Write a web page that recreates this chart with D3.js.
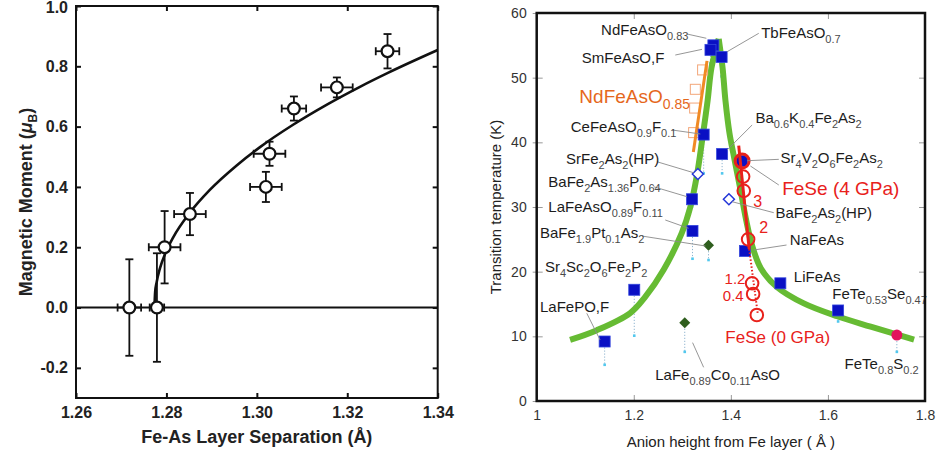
<!DOCTYPE html>
<html>
<head>
<meta charset="utf-8">
<script src="https://cdn.jsdelivr.net/npm/d3@7"></script>
<style>
  body { margin: 0; background: #fff; }
  svg { display: block; }
  text { font-family: "Liberation Sans", Arial, Helvetica, sans-serif; }
</style>
</head>
<body>
<svg id="chart" width="936" height="456"></svg>
<script>
// ---------- Panel A: ordered Fe moment vs Fe–As layer separation ----------
const separation    = [1.2718, 1.2779, 1.2796, 1.2852, 1.3028, 1.3020, 1.3082, 1.3177, 1.3289];
const moment        = [0.00, 0.00, 0.20, 0.31, 0.51, 0.40, 0.66, 0.73, 0.85];
const separationErr = [0.0026, 0.0016, 0.0035, 0.0035, 0.0035, 0.0035, 0.0027, 0.0035, 0.0026];
const momentErr     = [0.16, 0.18, 0.12, 0.07, 0.04, 0.05, 0.04, 0.033, 0.057];
// guide curve through the moments
const fitSeparation = [1.27735, 1.2775, 1.27785, 1.27858, 1.27985, 1.2815, 1.2852, 1.2896, 1.2956, 1.3007, 1.3081, 1.3155, 1.3228, 1.3291, 1.3400];
const fitMoment     = [0.000, 0.050, 0.085, 0.131, 0.183, 0.233, 0.315, 0.390, 0.472, 0.532, 0.607, 0.673, 0.732, 0.779, 0.854];
const sepTicks    = [1.26, 1.28, 1.30, 1.32, 1.34];
const momentTicks = [-0.2, 0.0, 0.2, 0.4, 0.6, 0.8, 1.0];

// ---------- Panel B: Tc vs anion height from the Fe layer ----------
// filled squares
const sqNames  = ["NdFeAsO_{0.83}", "SmFeAsO,F", "TbFeAsO_{0.7}", "CeFeAsO_{0.9}F_{0.1}", "Ba_{0.6}K_{0.4}Fe_{2}As_{2}",
                  "Sr_{4}V_{2}O_{6}Fe_{2}As_{2}", "BaFe_{2}As_{1.36}P_{0.64}", "LaFeAsO_{0.89}F_{0.11}", "NaFeAs", "LiFeAs",
                  "FeTe_{0.53}Se_{0.47}", "Sr_{4}Sc_{2}O_{6}Fe_{2}P_{2}", "LaFePO,F"];
const sqHeight = [1.364, 1.358, 1.381, 1.344, 1.382, 1.423, 1.320, 1.321, 1.429, 1.502, 1.621, 1.201, 1.140];
const sqTc     = [55.0, 54.3, 53.2, 41.2, 38.2, 37.1, 31.2, 26.3, 23.2, 18.2, 14.0, 17.2, 9.2];
const sqTcLow  = [null, 52.2, 50.2, 35.2, 35.2, null, 30.1, 22.0, null, null, 12.3, 10.1, 5.6];
// filled diamonds
const dmNames  = ["BaFe_{1.9}Pt_{0.1}As_{2}", "LaFe_{0.89}Co_{0.11}AsO"];
const dmHeight = [1.354, 1.305];
const dmTc     = [24.1, 12.1];
const dmTcLow  = [21.8, 7.6];
// open diamonds (high pressure)
const hpNames  = ["SrFe_{2}As_{2}(HP)", "BaFe_{2}As_{2}(HP)"];
const hpHeight = [1.332, 1.396];
const hpTc     = [35.1, 31.2];
// FeTe0.8S0.2
const tsHeight = [1.742];
const tsTc     = [10.2];
const tsTcLow  = [7.6];
// NdFeAsO0.85 under pressure
const ndHeight = [1.3418, 1.3268, 1.3254, 1.3233];
const ndTc     = [51.2, 48.2, 45.3, 41.5];
const ndTrendHeight = [1.3227, 1.3509];
const ndTrendTc     = [38.5, 52.6];
// FeSe under pressure (GPa)
const feseHeight = [1.4232, 1.4253, 1.4266, 1.4356, 1.4438, 1.4459, 1.4535];
const feseTc     = [37.1, 34.7, 32.5, 25.0, 18.2, 16.55, 13.3];
const feseTrendHeight = [1.4162, 1.4378, 1.4554];
const feseTrendTc     = [39.5, 23.5, 13.5];
// guide curve, two branches meeting at the top
const leftBranchHeight  = [1.0688, 1.124, 1.1926, 1.2236, 1.2615, 1.2990, 1.3165, 1.3303, 1.3406, 1.3522, 1.3600, 1.3750];
const leftBranchTc      = [9.45, 10.95, 13.6, 16.1, 20.3, 26.0, 30.0, 35.0, 40.2, 46.5, 51.5, 56.0];
const rightBranchHeight = [1.3750, 1.3830, 1.3888, 1.3970, 1.4058, 1.4200, 1.4320, 1.4440, 1.4620, 1.4955, 1.5504, 1.6193, 1.6881, 1.7775];
const rightBranchTc     = [56.0, 51.5, 46.5, 41.5, 38.0, 32.6, 27.8, 24.0, 20.5, 17.6, 15.1, 13.1, 11.5, 9.5];
const heightTicks = [1, 1.2, 1.4, 1.6, 1.8];
const tcTicks     = [0, 10, 20, 30, 40, 50, 60];

// label placement (data units): text start, and leader line from label to mark
const annotations = [
  { t: sqNames[0],  x: 1.1327, y: 56.6,  lead: [1.3097, 56.75, 1.3495, 56.09] },
  { t: sqNames[1],  x: 1.0929, y: 52.22, lead: [1.2855, 53.50, 1.3406, 54.38] },
  { t: sqNames[2],  x: 1.4624, y: 56.09, lead: [1.4575, 56.86, 1.3922, 54.01] },
  { t: sqNames[3],  x: 1.0702, y: 41.64, lead: [1.2787, 41.91, 1.3371, 41.29] },
  { t: sqNames[4],  x: 1.4507, y: 42.94, lead: [1.4438, 42.68, 1.3922, 38.81] },
  { t: sqNames[5],  x: 1.5023, y: 36.76, lead: [1.4988, 37.37, 1.4335, 37.16] },
  { t: hpNames[0],  x: 1.0605, y: 36.65, lead: [1.2477, 37.00, 1.3233, 35.30] },
  { t: sqNames[6],  x: 1.0239, y: 33.14, lead: [1.2407, 33.14, 1.3097, 31.59] },
  { t: hpNames[1],  x: 1.4920, y: 28.25, lead: [1.4884, 29.12, 1.4026, 30.82] },
  { t: sqNames[7],  x: 1.0239, y: 29.27, lead: [1.2649, 27.99, 1.3130, 26.71] },
  { t: dmNames[0],  x: 1.0068, y: 25.16, lead: [1.2168, 25.51, 1.3475, 23.97] },
  { t: sqNames[8],  x: 1.5215, y: 24.12, lead: [1.5147, 24.12, 1.4472, 23.35] },
  { t: sqNames[11], x: 1.0171, y: 19.99, lead: null },
  { t: sqNames[9],  x: 1.5297, y: 18.45, lead: null },
  { t: sqNames[10], x: 1.6090, y: 15.73, lead: null },
  { t: sqNames[12], x: 1.0068, y: 13.81, lead: [1.1032, 13.56, 1.1307, 9.43] },
  { t: dmNames[1],  x: 1.2442, y: 3.25,  lead: [1.3439, 5.21, 1.3212, 9.02] },
  { t: "FeTe_{0.8}S_{0.2}", x: 1.6344, y: 4.90, lead: null }
];
const feseNotes = [
  { t: "FeSe (4 GPa)", x: 1.5058, y: 31.85, size: 19, anchor: "start", lead: [1.4988, 33.40, 1.4403, 36.34] },
  { t: "FeSe (0 GPa)", x: 1.3887, y: 9.02,  size: 17, anchor: "start", lead: null },
  { t: "3",   x: 1.4553, y: 30.03, size: 16, anchor: "middle", lead: null },
  { t: "2",   x: 1.4678, y: 26.01, size: 16, anchor: "middle", lead: null },
  { t: "1.2", x: 1.4300, y: 18.05, size: 15, anchor: "end", lead: null },
  { t: "0.4", x: 1.4265, y: 15.50, size: 15, anchor: "end", lead: null }
];

const svg = d3.select("#chart");

// ================= Panel A =================
const xA = d3.scaleLinear().domain([1.26, 1.34]).range([76, 437.7]);
const yA = d3.scaleLinear().domain([-0.3, 1.0]).range([398, 6]);
const gA = svg.append("g");
const inkA = "#111";

function styleAxisA(g) {
  g.select(".domain").remove();
  g.selectAll(".tick line").attr("stroke", inkA).attr("stroke-width", 2);
  g.selectAll(".tick text").attr("fill", "#222").style("font-size", "16px").style("font-weight", "bold");
}
gA.append("g").attr("transform", `translate(0,${yA.range()[0]})`)
  .call(d3.axisBottom(xA).tickValues(sepTicks).tickFormat(d => d.toFixed(2)).tickSizeInner(-5).tickSizeOuter(0).tickPadding(9))
  .call(styleAxisA);
gA.append("g").attr("transform", `translate(0,${yA.range()[1]})`)
  .call(d3.axisTop(xA).tickValues(sepTicks).tickFormat("").tickSizeInner(-5).tickSizeOuter(0))
  .call(styleAxisA);
gA.append("g").attr("transform", `translate(${xA.range()[0]},0)`)
  .call(d3.axisLeft(yA).tickValues(momentTicks).tickFormat(d => d.toFixed(1)).tickSizeInner(-5).tickSizeOuter(0).tickPadding(8))
  .call(styleAxisA)
  // keep the topmost label inside the page
  .call(g => g.selectAll(".tick text").filter(d => d === 1.0).attr("dy", "0.42em"));
gA.append("g").attr("transform", `translate(${xA.range()[1]},0)`)
  .call(d3.axisRight(yA).tickValues(momentTicks).tickFormat("").tickSizeInner(-5).tickSizeOuter(0))
  .call(styleAxisA);

gA.append("rect")
  .attr("x", xA.range()[0]).attr("y", yA.range()[1])
  .attr("width", xA.range()[1] - xA.range()[0]).attr("height", yA.range()[0] - yA.range()[1])
  .attr("fill", "none").attr("stroke", inkA).attr("stroke-width", 2);

// zero line
gA.append("line")
  .attr("x1", xA.range()[0]).attr("x2", xA.range()[1])
  .attr("y1", yA(0)).attr("y2", yA(0))
  .attr("stroke", inkA).attr("stroke-width", 2);

// guide curve
const fitPts = fitSeparation.map((s, i) => [s, fitMoment[i]]);
gA.append("path")
  .attr("d", d3.line().x(d => xA(d[0])).y(d => yA(d[1])).curve(d3.curveMonotoneX)(fitPts))
  .attr("fill", "none").attr("stroke", inkA).attr("stroke-width", 2.6);

// error bars and points
const ptsA = separation.map((s, i) => ({ s, m: moment[i], es: separationErr[i], em: momentErr[i] }));
const eb = gA.append("g").attr("stroke", inkA).attr("stroke-width", 1.8).attr("fill", "none");
const cap = 4;
ptsA.forEach(p => {
  const cx = xA(p.s), cy = yA(p.m);
  const yT = yA(p.m + p.em), yB = yA(p.m - p.em);
  const xL = xA(p.s - p.es), xR = xA(p.s + p.es);
  eb.append("line").attr("x1", cx).attr("x2", cx).attr("y1", yT).attr("y2", yB);
  eb.append("line").attr("x1", cx - cap).attr("x2", cx + cap).attr("y1", yT).attr("y2", yT);
  eb.append("line").attr("x1", cx - cap).attr("x2", cx + cap).attr("y1", yB).attr("y2", yB);
  eb.append("line").attr("x1", xL).attr("x2", xR).attr("y1", cy).attr("y2", cy);
  eb.append("line").attr("x1", xL).attr("x2", xL).attr("y1", cy - cap).attr("y2", cy + cap);
  eb.append("line").attr("x1", xR).attr("x2", xR).attr("y1", cy - cap).attr("y2", cy + cap);
});
gA.append("g").selectAll("circle").data(ptsA).join("circle")
  .attr("cx", d => xA(d.s)).attr("cy", d => yA(d.m)).attr("r", 5.9)
  .attr("fill", "#fff").attr("stroke", inkA).attr("stroke-width", 2.2);

// axis titles
gA.append("text")
  .attr("x", (xA.range()[0] + xA.range()[1]) / 2).attr("y", 443)
  .attr("text-anchor", "middle").attr("fill", "#222")
  .style("font-size", "18px").style("font-weight", "bold")
  .text("Fe-As Layer Separation (Å)");
const yTitleA = gA.append("text")
  .attr("transform", `translate(32,${(yA.range()[0] + yA.range()[1]) / 2}) rotate(-90)`)
  .attr("text-anchor", "middle").attr("fill", "#222")
  .style("font-size", "18px").style("font-weight", "bold");
yTitleA.append("tspan").text("Magnetic Moment (");
yTitleA.append("tspan").style("font-style", "italic").text("μ");
yTitleA.append("tspan").attr("dy", 5).style("font-size", "12px").text("B");
yTitleA.append("tspan").attr("dy", -5).text(")");

// ================= Panel B =================
const xB = d3.scaleLinear().domain([1, 1.8]).range([536.7, 925]);
const yB = d3.scaleLinear().domain([0, 60]).range([401, 13]);
const gB = svg.append("g");

function styleAxisB(g) {
  g.select(".domain").remove();
  g.selectAll(".tick line").attr("stroke", "#999").attr("stroke-width", 1);
  g.selectAll(".tick text").attr("fill", "#333").style("font-size", "14px");
}
const fmtB = d => String(+d.toFixed(1));
gB.append("g").attr("transform", `translate(0,${yB.range()[0]})`)
  .call(d3.axisBottom(xB).tickValues(heightTicks).tickFormat(fmtB).tickSizeInner(-6).tickSizeOuter(0).tickPadding(9))
  .call(styleAxisB);
gB.append("g").attr("transform", `translate(0,${yB.range()[1]})`)
  .call(d3.axisTop(xB).tickValues(heightTicks).tickFormat("").tickSizeInner(-6).tickSizeOuter(0))
  .call(styleAxisB);
gB.append("g").attr("transform", `translate(${xB.range()[0]},0)`)
  .call(d3.axisLeft(yB).tickValues(tcTicks).tickFormat(d => d).tickSizeInner(-6).tickSizeOuter(0).tickPadding(10))
  .call(styleAxisB)
  .call(g => g.selectAll(".tick line").attr("x1", -4));
gB.append("g").attr("transform", `translate(${xB.range()[1]},0)`)
  .call(d3.axisRight(yB).tickValues(tcTicks).tickFormat("").tickSizeInner(-6).tickSizeOuter(0))
  .call(styleAxisB);

// axis titles
gB.append("text")
  .attr("x", (xB.range()[0] + xB.range()[1]) / 2).attr("y", 447)
  .attr("text-anchor", "middle").attr("fill", "#222").style("font-size", "15px")
  .text("Anion height from Fe layer ( Å )");
gB.append("text")
  .attr("transform", `translate(501,${(yB.range()[0] + yB.range()[1]) / 2}) rotate(-90)`)
  .attr("text-anchor", "middle").attr("fill", "#222").style("font-size", "15px")
  .text("Transition temperature (K)");

// dotted drops to the lower Tc values
const cyan = "#52c8ee";
const drops = [];
sqHeight.forEach((h, i) => { if (sqTcLow[i] != null) drops.push([h, sqTc[i], sqTcLow[i]]); });
dmHeight.forEach((h, i) => drops.push([h, dmTc[i], dmTcLow[i]]));
tsHeight.forEach((h, i) => drops.push([h, tsTc[i], tsTcLow[i]]));
const dropG = gB.append("g");
drops.forEach(([h, t0, t1]) => {
  dropG.append("line").attr("x1", xB(h)).attr("x2", xB(h)).attr("y1", yB(t0)).attr("y2", yB(t1))
    .attr("stroke", "#8fb4cf").attr("stroke-width", 1).attr("stroke-dasharray", "1.2,1.8");
  dropG.append("rect").attr("x", xB(h) - 1.3).attr("y", yB(t1) - 1.3).attr("width", 2.6).attr("height", 2.6)
    .attr("fill", cyan);
});

// green guide curve
const branchLine = d3.line().x(d => xB(d[0])).y(d => yB(d[1])).curve(d3.curveCatmullRom.alpha(0.5));
[[leftBranchHeight, leftBranchTc], [rightBranchHeight, rightBranchTc]].forEach(([hs, ts]) => {
  gB.append("path")
    .attr("d", branchLine(hs.map((h, i) => [h, ts[i]])))
    .attr("fill", "none").attr("stroke", "#66bb33").attr("stroke-width", 6).attr("stroke-linejoin", "round");
});

// NdFeAsO0.85 under pressure
gB.append("g").selectAll("rect").data(ndHeight.map((h, i) => [h, ndTc[i]])).join("rect")
  .attr("x", d => xB(d[0]) - 5).attr("y", d => yB(d[1]) - 5).attr("width", 10).attr("height", 10)
  .attr("fill", "none").attr("stroke", "#f3a679").attr("stroke-width", 1);
gB.append("path")
  .attr("d", d3.line().x(d => xB(d[0])).y(d => yB(d[1]))(ndTrendHeight.map((h, i) => [h, ndTrendTc[i]])))
  .attr("stroke", "#f08a24").attr("stroke-width", 3).attr("fill", "none");

// filled diamonds
const diamond = (cx, cy, r) => `M${cx},${cy - r}L${cx + r},${cy}L${cx},${cy + r}L${cx - r},${cy}Z`;
dmHeight.forEach((h, i) => {
  gB.append("path").attr("d", diamond(xB(h), yB(dmTc[i]), 5.5)).attr("fill", "#2f5e1e");
});
// open diamonds
hpHeight.forEach((h, i) => {
  gB.append("path").attr("d", diamond(xB(h), yB(hpTc[i]), 5.5))
    .attr("fill", "#fff").attr("stroke", "#2436d8").attr("stroke-width", 1.5);
});
// filled squares
gB.append("g").selectAll("rect").data(sqHeight.map((h, i) => [h, sqTc[i]])).join("rect")
  .attr("x", d => xB(d[0]) - 5.5).attr("y", d => yB(d[1]) - 5.5).attr("width", 11).attr("height", 11)
  .attr("fill", "#0a10c4").attr("stroke", "#3346dc").attr("stroke-width", 0.8);
// FeTe0.8S0.2
tsHeight.forEach((h, i) => {
  gB.append("circle").attr("cx", xB(h)).attr("cy", yB(tsTc[i])).attr("r", 5.5).attr("fill", "#e2125c");
});

// FeSe under pressure
const red = "#e8211b";
const feseTrend = feseTrendHeight.map((h, i) => [h, feseTrendTc[i]]);
const segLine = d3.line().x(d => xB(d[0])).y(d => yB(d[1]));
gB.append("path").attr("d", segLine(feseTrend.slice(0, 2)))
  .attr("stroke", red).attr("stroke-width", 3).attr("fill", "none");
gB.append("path").attr("d", segLine(feseTrend.slice(1)))
  .attr("stroke", red).attr("stroke-width", 2).attr("stroke-dasharray", "1.5,2").attr("fill", "none");
gB.append("g").selectAll("circle").data(feseHeight.map((h, i) => [h, feseTc[i], i])).join("circle")
  .attr("cx", d => xB(d[0])).attr("cy", d => yB(d[1]))
  .attr("r", d => d[2] === 0 ? 7 : 6.3)
  .attr("fill", "none").attr("stroke", red).attr("stroke-width", d => d[2] === 0 ? 3 : 2);

// labels with subscripts
function richText(g, str, x, y, o) {
  const t = g.append("text").attr("x", x).attr("y", y).attr("fill", o.color)
    .style("font-size", o.size + "px").attr("text-anchor", o.anchor || "start");
  let inSub = false;
  str.split(/(_\{[^}]*\})/).filter(s => s.length).forEach(p => {
    if (p.startsWith("_{")) {
      t.append("tspan").attr("dy", inSub ? 0 : o.shift).attr("fill", o.subColor)
        .style("font-size", o.subSize + "px").text(p.slice(2, -1));
      inSub = true;
    } else {
      const s = t.append("tspan").text(p);
      if (inSub) s.attr("dy", -o.shift);
      inSub = false;
    }
  });
  return t;
}
const leadG = gB.append("g").attr("stroke", "#8a8a8a").attr("stroke-width", 0.9);
const labelStyle = { color: "#1c1c1c", size: 15, subSize: 11, subColor: "#4a4a4a", shift: 5 };
annotations.forEach(a => {
  if (a.lead) leadG.append("line")
    .attr("x1", xB(a.lead[0])).attr("y1", yB(a.lead[1])).attr("x2", xB(a.lead[2])).attr("y2", yB(a.lead[3]));
  richText(gB, a.t, xB(a.x), yB(a.y), labelStyle);
});
// NdFeAsO0.85 label
richText(gB, "NdFeAsO_{0.85}", xB(1.0879), yB(46.03),
  { color: "#e5671c", size: 19, subSize: 14, subColor: "#e5671c", shift: 6 });
// FeSe labels
feseNotes.forEach(a => {
  if (a.lead) leadG.append("line")
    .attr("x1", xB(a.lead[0])).attr("y1", yB(a.lead[1])).attr("x2", xB(a.lead[2])).attr("y2", yB(a.lead[3]));
  gB.append("text").attr("x", xB(a.x)).attr("y", yB(a.y)).attr("text-anchor", a.anchor)
    .attr("fill", red).style("font-size", a.size + "px").text(a.t);
});

// frame
gB.append("rect")
  .attr("x", xB.range()[0]).attr("y", yB.range()[1])
  .attr("width", xB.range()[1] - xB.range()[0]).attr("height", yB.range()[0] - yB.range()[1])
  .attr("fill", "none").attr("stroke", "#111").attr("stroke-width", 2.5);
</script>
</body>
</html>
